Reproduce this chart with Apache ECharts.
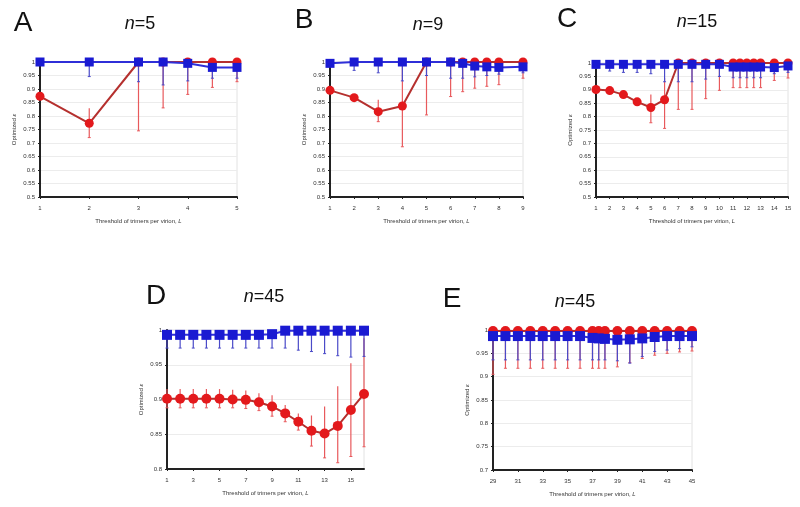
<!DOCTYPE html>
<html><head><meta charset="utf-8">
<script src="https://cdn.jsdelivr.net/npm/echarts@6/dist/echarts.min.js"></script>
<style>html,body{margin:0;padding:0;background:#fff}#c{width:800px;height:507px}</style>
</head><body><div id="c"></div>
<script>
// ---- Panel A (n=5)
const xA = [1, 2, 3, 3.5, 4, 4.5, 5];
const redA = [0.873, 0.773, 1.0, 1.0, 1.0, 1.0, 1.0];
const redLoA = [0.873, 0.72, 0.745, 0.83, 0.88, 0.906, 0.927];
const redHiA = [0.873, 0.829, 1, 1, 1, 1, 1];
const blueA = [1, 1, 1, 1, 0.995, 0.98, 0.98];
const blueLoA = [1, 0.946, 0.927, 0.915, 0.93, 0.94, 0.94];
// ---- Panel B (n=9)
const xB = [1, 2, 3, 4, 5, 6, 6.5, 7, 7.5, 8, 9];
const redB = [0.895, 0.868, 0.816, 0.837, 1, 1, 1, 1, 1, 1, 1];
const redLoB = [0.895, 0.868, 0.779, 0.686, 0.804, 0.872, 0.89, 0.903, 0.91, 0.916, 0.94];
const redHiB = [0.895, 0.868, 0.86, 1, 1, 1, 1, 1, 1, 1, 1];
const blueB = [0.995, 1, 1, 1, 1, 1, 0.995, 0.985, 0.982, 0.98, 0.982];
const blueLoB = [0.995, 0.969, 0.96, 0.93, 0.95, 0.94, 0.94, 0.945, 0.95, 0.955, 0.96];
// ---- Panel C (n=15)
const xC = [1, 2, 3, 4, 5, 6, 7, 8, 9, 10, 11, 11.5, 12, 12.5, 13, 14, 15];
const redC = [0.901, 0.897, 0.882, 0.855, 0.834, 0.863, 1, 1, 1, 1, 1, 1, 1, 1, 1, 1, 1];
const redLoC = [0.901, 0.897, 0.882, 0.855, 0.777, 0.756, 0.827, 0.827, 0.867, 0.898, 0.908, 0.908, 0.908, 0.908, 0.908, 0.935, 0.944];
const redHiC = [0.901, 0.897, 0.882, 0.855, 0.882, 0.944, 1, 1, 1, 1, 1, 1, 1, 1, 1, 1, 1];
const blueC = [0.995, 0.995, 0.995, 0.995, 0.995, 0.995, 0.995, 0.995, 0.995, 0.995, 0.985, 0.985, 0.985, 0.985, 0.985, 0.983, 0.989];
const blueLoC = [0.98, 0.97, 0.965, 0.965, 0.96, 0.93, 0.93, 0.93, 0.94, 0.95, 0.945, 0.945, 0.945, 0.945, 0.945, 0.96, 0.965];
// ---- Panel D (n=45)
const xD = [1, 2, 3, 4, 5, 6, 7, 8, 9, 10, 11, 12, 13, 14, 15, 16];
const redD = [0.901, 0.901, 0.901, 0.901, 0.901, 0.9, 0.8995, 0.896, 0.89, 0.88, 0.868, 0.855, 0.851, 0.862, 0.885, 0.908];
const redLoD = [0.888, 0.888, 0.888, 0.888, 0.888, 0.888, 0.887, 0.884, 0.876, 0.868, 0.856, 0.833, 0.816, 0.809, 0.818, 0.832];
const redHiD = [0.915, 0.915, 0.915, 0.915, 0.915, 0.914, 0.913, 0.909, 0.906, 0.892, 0.880, 0.877, 0.890, 0.919, 0.952, 0.988];
const blueD = [0.993, 0.993, 0.993, 0.993, 0.993, 0.993, 0.993, 0.993, 0.994, 0.999, 0.999, 0.999, 0.999, 0.999, 0.999, 0.999];
const blueLoD = [0.974, 0.974, 0.974, 0.974, 0.974, 0.974, 0.974, 0.974, 0.974, 0.974, 0.971, 0.969, 0.966, 0.963, 0.961, 0.962];
const xTicksD = [1, 3, 5, 7, 9, 11, 13, 15];
// ---- Panel E (n=45)
const xE = [29, 30, 31, 32, 33, 34, 35, 36, 37, 37.5, 38, 39, 40, 41, 42, 43, 44, 45];
const redE = [0.998, 0.998, 0.998, 0.998, 0.998, 0.998, 0.998, 0.998, 0.998, 0.998, 0.998, 0.998, 0.998, 0.998, 0.998, 0.998, 0.998, 0.998];
const redLoE = [0.905, 0.918, 0.918, 0.918, 0.918, 0.918, 0.918, 0.918, 0.918, 0.918, 0.918, 0.921, 0.93, 0.939, 0.946, 0.95, 0.953, 0.955];
const blueE = [0.987, 0.987, 0.987, 0.987, 0.987, 0.987, 0.987, 0.987, 0.983, 0.982, 0.981, 0.979, 0.98, 0.982, 0.985, 0.987, 0.987, 0.987];
const blueLoE = [0.936, 0.936, 0.936, 0.936, 0.936, 0.936, 0.936, 0.936, 0.936, 0.936, 0.936, 0.934, 0.929, 0.943, 0.954, 0.957, 0.96, 0.964];
const xTicksE = [29, 31, 33, 35, 37, 39, 41, 43, 45];

const panels = [
  {letter: 'A', n: '5', x: xA, red: redA, rlo: redLoA, rhi: redHiA, blue: blueA, blo: blueLoA,
   grid: {left: 40, top: 62, width: 197, height: 135}, xmin: 1, xmax: 5, ymin: 0.5, ms: 9,
   L: [23, 23], N: [140, 24]},
  {letter: 'B', n: '9', x: xB, red: redB, rlo: redLoB, rhi: redHiB, blue: blueB, blo: blueLoB,
   grid: {left: 330, top: 62, width: 193, height: 135}, xmin: 1, xmax: 9, ymin: 0.5, ms: 9,
   L: [304, 20], N: [428, 25]},
  {letter: 'C', n: '15', x: xC, red: redC, rlo: redLoC, rhi: redHiC, blue: blueC, blo: blueLoC,
   grid: {left: 596, top: 63, width: 192, height: 134}, xmin: 1, xmax: 15, ymin: 0.5, ms: 9,
   L: [567, 19], N: [697, 22]},
  {letter: 'D', n: '45', x: xD, red: redD, rlo: redLoD, rhi: redHiD, blue: blueD, blo: blueLoD,
   grid: {left: 167, top: 330, width: 197, height: 139}, xmin: 1, xmax: 16, ymin: 0.8, ticks: xTicksD, ms: 10,
   L: [156, 296], N: [264, 297]},
  {letter: 'E', n: '45', x: xE, red: redE, rlo: redLoE, rhi: null, blue: blueE, blo: blueLoE,
   grid: {left: 493, top: 330, width: 199, height: 140}, xmin: 29, xmax: 45, ymin: 0.7, ticks: xTicksE, ms: 10,
   L: [452, 299], N: [575, 302]}
];

function errRender(color) {
  return function (params, api) {
    const x = api.value(0), lo = api.value(1), hi = api.value(2);
    const p1 = api.coord([x, lo]), p2 = api.coord([x, hi]);
    if (Math.abs(p1[1] - p2[1]) < 0.5) return null;
    return {type: 'group', children: [
      {type: 'line', shape: {x1: p1[0], y1: p1[1], x2: p2[0], y2: p2[1]}, style: {stroke: color, lineWidth: 1.2}},
      {type: 'line', shape: {x1: p1[0] - 1.5, y1: p1[1], x2: p1[0] + 1.5, y2: p1[1]}, style: {stroke: color, lineWidth: 1}}
    ]};
  };
}

const grids = [], xAxes = [], yAxes = [], series = [], graphics = [];
const axisFont = {fontSize: 6, color: '#333', fontFamily: 'Liberation Sans'};
panels.forEach((p, i) => {
  grids.push(Object.assign({show: true, borderColor: '#e2e2e2', borderWidth: 1, backgroundColor: '#fff'}, p.grid));
  const xa = {
    type: 'value', gridIndex: i, min: p.xmin, max: p.xmax,
    name: '{t|Threshold of trimers per virion, }{i|L}', nameLocation: 'middle', nameGap: 21,
    nameTextStyle: {rich: {t: axisFont, i: Object.assign({fontStyle: 'italic'}, axisFont)}},
    axisLine: {lineStyle: {color: '#222', width: 2}},
    axisTick: {show: true, length: 2, lineStyle: {color: '#222'}},
    axisLabel: Object.assign({margin: 8}, axisFont),
    splitLine: {show: false}
  };
  if (p.ticks) {
    xa.axisLabel.customValues = p.ticks;
    xa.axisTick.customValues = p.ticks;
  } else {
    xa.interval = 1;
  }
  xAxes.push(xa);
  yAxes.push({
    type: 'value', gridIndex: i, min: p.ymin, max: 1, interval: 0.05,
    name: '{t|Optimized }{i|ε}', nameLocation: 'middle', nameGap: 23,
    nameTextStyle: {rich: {t: axisFont, i: Object.assign({fontStyle: 'italic'}, axisFont)}},
    axisLine: {show: true, lineStyle: {color: '#222', width: 2}},
    axisTick: {show: true, length: 2, lineStyle: {color: '#222'}},
    axisLabel: Object.assign({margin: 5}, axisFont),
    splitLine: {show: true, lineStyle: {color: '#ececec', width: 1}}
  });
  const redErr = p.x.map((x, k) => [x, p.rlo[k], p.rhi ? p.rhi[k] : p.red[k]]);
  const blueErr = p.x.map((x, k) => [x, p.blo[k], p.blue[k]]);
  series.push({type: 'custom', xAxisIndex: i, yAxisIndex: i, renderItem: errRender('#e8595c'), data: redErr, z: 2, clip: false, silent: true});
  series.push({type: 'custom', xAxisIndex: i, yAxisIndex: i, renderItem: errRender('#4a4ac8'), data: blueErr, z: 3, clip: false, silent: true});
  series.push({type: 'line', xAxisIndex: i, yAxisIndex: i, data: p.x.map((x, k) => [x, p.red[k]]),
    symbol: 'circle', symbolSize: p.ms, lineStyle: {color: '#b5302e', width: 2},
    itemStyle: {color: '#e3191c'}, z: 4, clip: false});
  series.push({type: 'line', xAxisIndex: i, yAxisIndex: i, data: p.x.map((x, k) => [x, p.blue[k]]),
    symbol: 'rect', symbolSize: p.ms, lineStyle: {color: '#2f2fd8', width: 2},
    itemStyle: {color: '#1a1ad2'}, z: 5, clip: false});
  graphics.push({type: 'text', x: p.L[0], y: p.L[1], style: {text: p.letter, fontSize: 28, fontFamily: 'Liberation Sans', fill: '#111', align: 'center', verticalAlign: 'middle'}});
  graphics.push({type: 'text', x: p.N[0], y: p.N[1], style: {
    text: '{i|n}{t|=' + p.n + '}', align: 'center', verticalAlign: 'middle',
    rich: {i: {fontSize: 18, fontStyle: 'italic', fontFamily: 'Liberation Sans', fill: '#111'},
           t: {fontSize: 18, fontFamily: 'Liberation Sans', fill: '#111'}}}});
});

const chart = echarts.init(document.getElementById('c'), null, {renderer: 'canvas'});
chart.setOption({
  animation: false,
  backgroundColor: '#fff',
  grid: grids, xAxis: xAxes, yAxis: yAxes, series: series, graphic: graphics
});
</script></body></html>
